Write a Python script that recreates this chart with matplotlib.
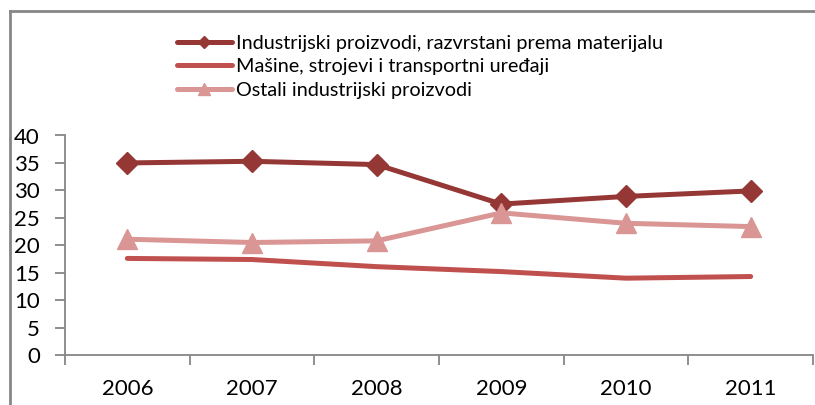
import matplotlib.pyplot as plt
from matplotlib.lines import Line2D

years = ['2006', '2007', '2008', '2009', '2010', '2011']
materijal = [35.0, 35.3, 34.7, 27.5, 28.9, 29.9]
masine = [17.6, 17.4, 16.1, 15.2, 14.0, 14.3]
ostali = [21.1, 20.5, 20.8, 25.9, 24.0, 23.4]

labels = ['Industrijski proizvodi, razvrstani prema materijalu',
          'Mašine, strojevi i transportni uređaji',
          'Ostali industrijski proizvodi']

plt.rcParams['font.family'] = ['Lato', 'DejaVu Sans']

fig = plt.figure(figsize=(8.15, 4.05), dpi=100)
ax = fig.add_axes([65 / 815, 1 - 355 / 405, 748 / 815, 219.5 / 405])

x = range(len(years))
ax.plot(x, materijal, color='#953735', lw=3.6, marker='D', ms=11.5,
        solid_capstyle='round', label=labels[0])
ax.plot(x, masine, color='#C0504D', lw=3.6,
        solid_capstyle='round', label=labels[1])
ax.plot(x, ostali, color='#D99694', lw=3.6, marker='^', ms=15,
        solid_capstyle='round', label=labels[2])

ax.set_xlim(-0.5, 5.5)
ax.set_ylim(0, 40)
ax.set_yticks(range(0, 41, 5))
ax.set_xticks([i - 0.5 for i in range(7)], minor=False)
ax.set_xticklabels([])
ax.set_xticks(list(x), minor=True)
ax.set_xticklabels(years, minor=True)
ax.tick_params(axis='x', which='major', length=7, width=1.3, color='#868686', direction='out')
ax.tick_params(axis='x', which='minor', length=0, pad=17, labelsize=16)
ax.tick_params(axis='y', length=7, width=1.3, color='#868686', direction='out', labelsize=16, pad=11)

for s in ['top', 'right']:
    ax.spines[s].set_visible(False)
for s in ['left', 'bottom']:
    ax.spines[s].set_color('#868686')
    ax.spines[s].set_linewidth(1.3)

fig.legend(loc='upper left', bbox_to_anchor=(177 / 815, 1 - 35 / 405), frameon=False,
           fontsize=14.3, handlelength=2.75, handletextpad=0.2, labelspacing=0.32,
           markerscale=0.55, borderpad=0, borderaxespad=0)

# chart border (left and top only visible)
fig.add_artist(Line2D([9.5 / 815, 9.5 / 815], [0, 1 - 10.5 / 405], color='#868686', lw=2))
fig.add_artist(Line2D([9.5 / 815, 1], [1 - 10.5 / 405, 1 - 10.5 / 405], color='#868686', lw=2))

fig.savefig('out.png', dpi=100)
